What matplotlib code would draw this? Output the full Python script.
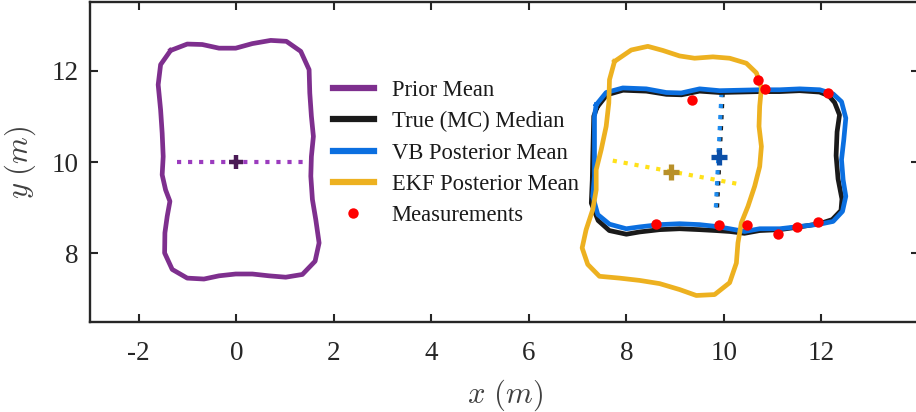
import numpy as np
import matplotlib
matplotlib.use("Agg")
import matplotlib.pyplot as plt

plt.rcParams['font.family'] = ['Liberation Serif', 'DejaVu Serif']
plt.rcParams['mathtext.fontset'] = 'cm'

# ---------------- data ----------------
prior_x = [-1.347, -1.006, -0.698, -0.355, -0.012, 0.329, 0.706, 1.027, 1.322, 1.493, 1.507, 1.540,
           1.581, 1.540, 1.528, 1.561, 1.630, 1.698, 1.616, 1.355, 1.014, 0.671, 0.329, -0.012,
           -0.355, -0.663, -1.006, -1.314, -1.470, -1.464, -1.417, -1.361, -1.450, -1.520, -1.499,
           -1.520, -1.552, -1.602, -1.552, -1.347]
prior_y = [12.44, 12.58, 12.57, 12.49, 12.49, 12.59, 12.66, 12.64, 12.42, 12.02, 11.51, 11.00,
           10.56, 10.12, 9.69, 9.18, 8.74, 8.23, 7.83, 7.54, 7.48, 7.51, 7.55, 7.55,
           7.51, 7.44, 7.46, 7.65, 8.01, 8.45, 8.81, 9.14, 9.39, 9.72, 10.12,
           10.63, 11.14, 11.69, 12.13, 12.44]

true_x = [7.40, 7.60, 7.93, 8.41, 8.82, 9.13, 9.50, 9.91, 10.32, 10.73, 11.14, 11.55, 11.96, 12.15,
          12.27, 12.37, 12.32, 12.30, 12.34, 12.42, 12.40, 12.22, 11.96, 11.55, 11.14, 10.73, 10.42,
          10.12, 9.84, 9.50, 9.09, 8.68, 8.27, 8.00, 7.65, 7.42, 7.28, 7.30, 7.31, 7.32, 7.33, 7.40]
true_y = [11.20, 11.47, 11.57, 11.55, 11.48, 11.47, 11.55, 11.52, 11.53, 11.54, 11.54, 11.56, 11.53, 11.45,
          11.30, 11.03, 10.66, 10.14, 9.63, 9.19, 8.94, 8.74, 8.65, 8.58, 8.52, 8.50, 8.44,
          8.48, 8.50, 8.52, 8.54, 8.52, 8.47, 8.42, 8.50, 8.72, 9.10, 9.60, 10.12, 10.56, 11.00, 11.20]

vb_x = [7.380, 7.585, 7.926, 8.407, 8.817, 9.125, 9.501, 9.912, 10.322, 10.733, 11.144, 11.554, 11.965,
        12.238, 12.411, 12.499, 12.458, 12.411, 12.444, 12.499, 12.431, 12.238, 11.965, 11.554, 11.144,
        10.733, 10.425, 10.117, 9.844, 9.501, 9.090, 8.680, 8.269, 7.996, 7.653, 7.413, 7.310, 7.345,
        7.345, 7.345, 7.345, 7.380]
vb_y = [11.25, 11.52, 11.62, 11.60, 11.52, 11.51, 11.60, 11.56, 11.57, 11.58, 11.58, 11.60, 11.58,
        11.49, 11.32, 10.96, 10.49, 10.05, 9.61, 9.25, 8.92, 8.70, 8.64, 8.59, 8.54,
        8.54, 8.48, 8.54, 8.59, 8.63, 8.65, 8.63, 8.58, 8.54, 8.64, 8.85, 9.25, 9.69,
        10.12, 10.56, 11.00, 11.25]

ekf_x = [7.756, 8.099, 8.439, 8.747, 9.090, 9.398, 9.774, 10.117, 10.460, 10.665, 10.768, 10.733,
         10.719, 10.768, 10.733, 10.630, 10.493, 10.357, 10.287, 10.255, 10.117, 9.809, 9.433, 9.090,
         8.680, 8.269, 7.858, 7.447, 7.207, 7.092, 7.174, 7.310, 7.380, 7.380, 7.483, 7.585, 7.639,
         7.653, 7.756]
ekf_y = [12.20, 12.45, 12.53, 12.44, 12.32, 12.27, 12.30, 12.27, 12.16, 11.95, 11.62, 11.22,
         10.78, 10.34, 9.90, 9.47, 9.03, 8.67, 8.23, 7.79, 7.36, 7.10, 7.08, 7.21,
         7.34, 7.41, 7.46, 7.50, 7.76, 8.12, 8.52, 8.96, 9.39, 9.83, 10.27, 10.78, 11.29,
         11.80, 12.20]

meas_x = [10.69, 10.85, 12.14, 9.34, 8.61, 9.90, 10.47, 11.11, 11.49, 11.93]
meas_y = [11.80, 11.60, 11.51, 11.35, 8.65, 8.63, 8.63, 8.43, 8.58, 8.68]

prior_center = (0.0, 10.0)
prior_axis_x = [-1.21, 1.46]
prior_axis_y = [10.0, 10.0]

vb_center = (9.90, 10.11)
vb_axis_x = [9.95, 9.83]
vb_axis_y = [11.51, 8.92]

ekf_center = (8.92, 9.79)
ekf_axis_x = [7.72, 10.39]
ekf_axis_y = [10.03, 9.50]

xticks = [-2, 0, 2, 4, 6, 8, 10, 12]
yticks = [8, 10, 12]

# ---------------- style ----------------
c_prior = '#7E2F8E'
c_true = '#1a1a1a'
c_vb = '#0B6FE0'
c_ekf = '#EDB120'
c_meas = '#FF0000'

fig = plt.figure(figsize=(9.16, 4.12), dpi=100)
W, H = 916, 412
ax = fig.add_axes([90 / W, (H - 322) / H, (919 - 90) / W, (322 - 2) / H])

lw = 3.4
ax.plot(prior_x, prior_y, color=c_prior, lw=lw, label='Prior Mean', zorder=3)
ax.plot(true_x, true_y, color=c_true, lw=lw, label='True (MC) Median', zorder=3)
ax.plot(vb_x, vb_y, color=c_vb, lw=lw, label='VB Posterior Mean', zorder=4)
ax.plot(ekf_x, ekf_y, color=c_ekf, lw=lw, label='EKF Posterior Mean', zorder=5)
ax.plot(meas_x, meas_y, 'o', color=c_meas, ms=7.5, label='Measurements', zorder=7, markeredgewidth=0)

# axes / centres
ax.plot(prior_axis_x, prior_axis_y, ':', color='#9B3BBE', lw=3, zorder=2)
ax.plot(*prior_center, '+', color='#4A1A55', ms=10, mew=3.2, zorder=6)

ax.plot([x + 0.025 for x in vb_axis_x], vb_axis_y, ':', color='#1a1a1a', lw=3, zorder=2)
ax.plot(vb_axis_x, vb_axis_y, ':', color='#1E8CF0', lw=3, zorder=2)
ax.plot(*vb_center, '+', color='#0B4FA8', ms=11, mew=3.8, zorder=6)

ax.plot(ekf_axis_x, ekf_axis_y, ':', color='#FFE11A', lw=3, zorder=2)
ax.plot(*ekf_center, '+', color='#B8902A', ms=11, mew=3.8, zorder=6)

ax.set_xlim(-3, 14)
ax.set_ylim(6.5, 13.5)
ax.set_xticks(xticks)
ax.set_xticklabels([str(t) for t in xticks])
ax.set_yticks(yticks)
ax.set_yticklabels([str(t) for t in yticks])

for s in ax.spines.values():
    s.set_linewidth(1.7)
    s.set_color('#262626')
ax.tick_params(direction='in', length=6, width=1.5, colors='#262626',
               labelsize=19.5, top=True, right=True, labelcolor='#262626')
ax.tick_params(axis='x', pad=14)
ax.tick_params(axis='y', pad=8)

ax.set_xlabel(r'$x\ (m)$', fontsize=22, color='#404040', labelpad=8)
ax.set_ylabel(r'$y\ (m)$', fontsize=22, color='#404040', labelpad=10)

leg = ax.legend(loc='upper left', bbox_to_anchor=((333 - 90) / 829, (322 - 80) / 320),
                frameon=False, fontsize=16.3, handlelength=1.8, handletextpad=0.8,
                labelspacing=0.45, borderpad=0, borderaxespad=0)
for t in leg.get_texts():
    t.set_color('#1a1a1a')
for h in leg.get_lines():
    h.set_linewidth(4.5)

fig.savefig('out.png', dpi=100)
